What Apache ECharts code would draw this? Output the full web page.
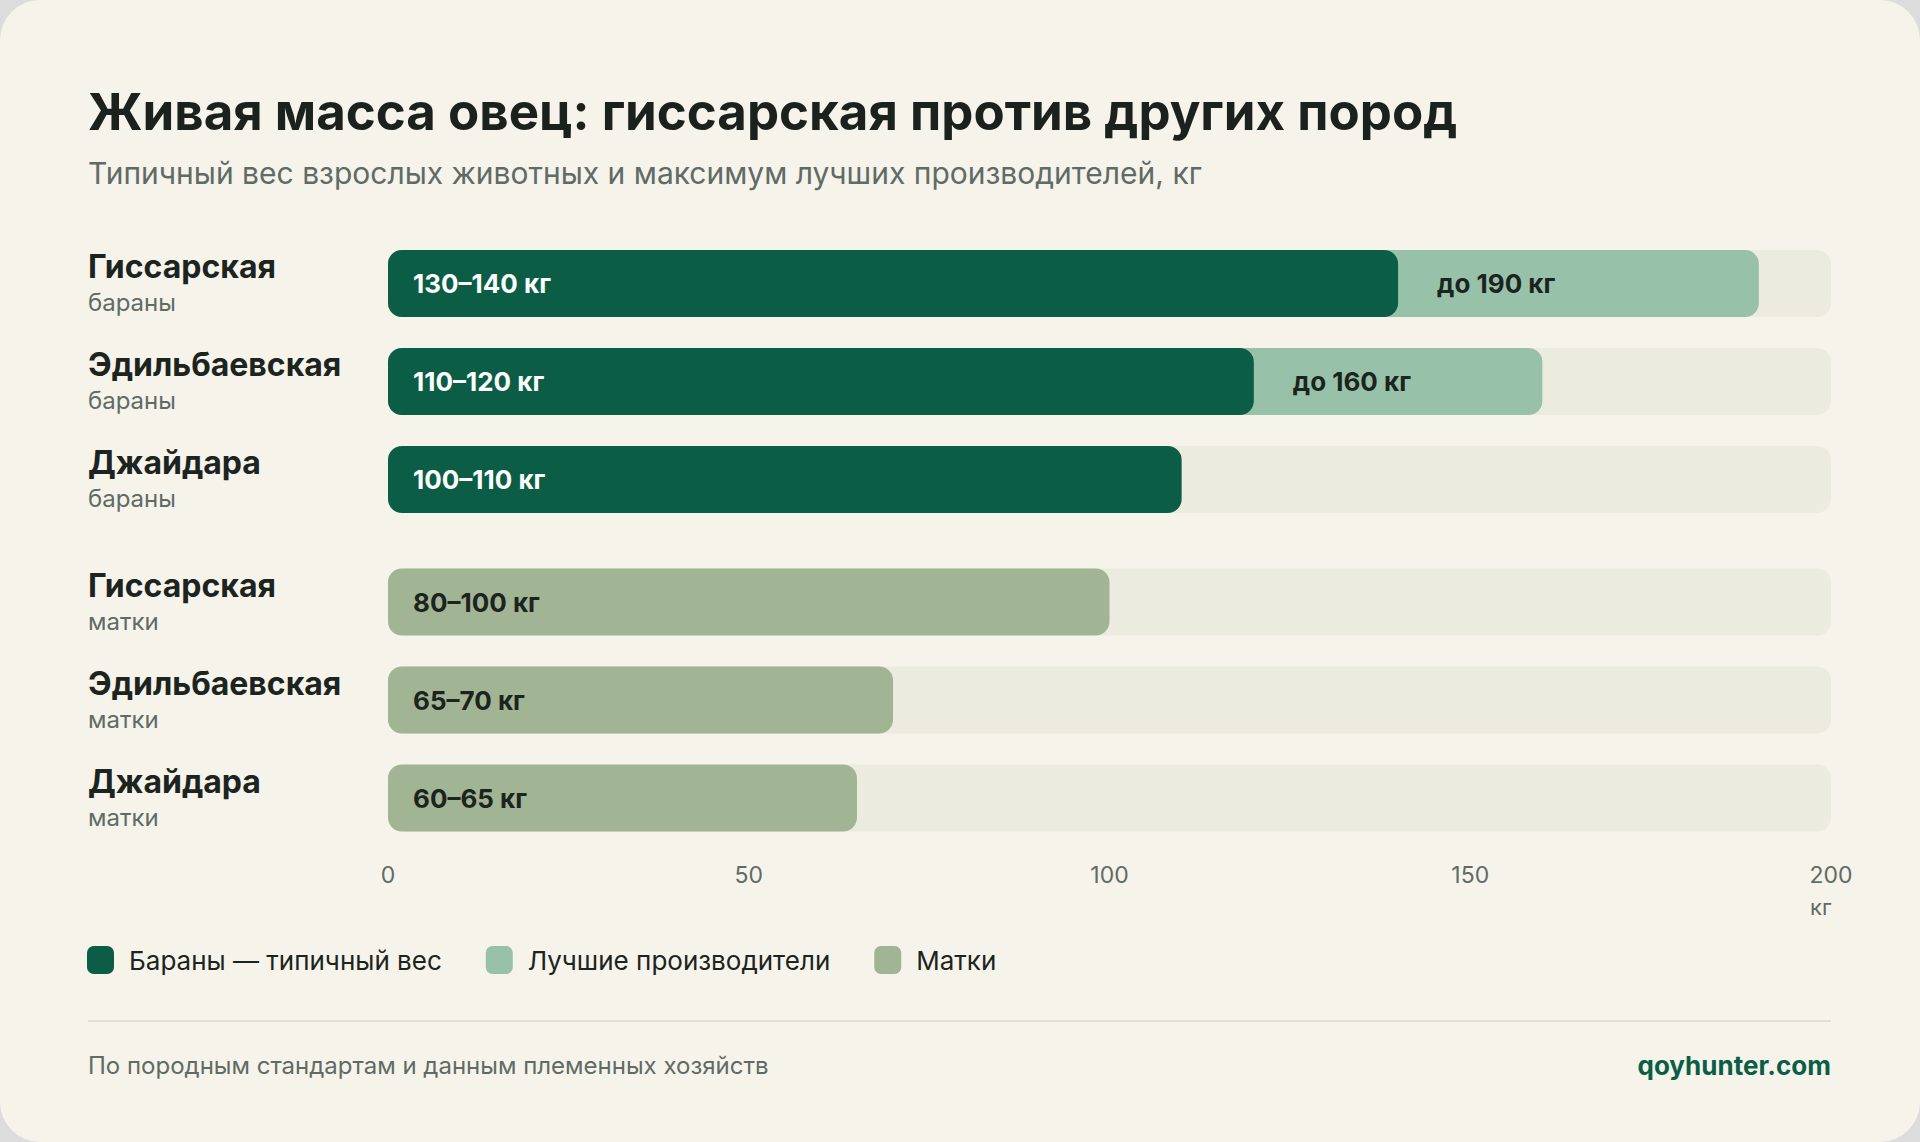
<!DOCTYPE html>
<html lang="ru">
<head>
<meta charset="utf-8">
<title>Живая масса овец</title>
<script src="https://cdn.jsdelivr.net/npm/echarts@6/dist/echarts.min.js"></script>
<style>
  html, body { margin: 0; padding: 0; background: #dcdcdc; }
  #card {
    position: absolute; left: 0; top: 0;
    width: 1920px; height: 1142px;
    border-radius: 40px;
    background: #f6f3eb;
    overflow: hidden;
  }
  #chart { width: 1920px; height: 1142px; }
</style>
</head>
<body>
<div id="card"><div id="chart"></div></div>
<script>
// данные
const breeds = ['Гиссарская', 'Эдильбаевская', 'Джайдара'];
const ramSub = 'бараны';
const eweSub = 'матки';

const ramTypical = [140, 120, 110];
const ramTypicalLabels = ['130–140 кг', '110–120 кг', '100–110 кг'];
const ramBest = [190, 160, null];
const ramBestLabels = ['до 190 кг', 'до 160 кг', ''];

const eweTypical = [100, 70, 65];
const eweLabels = ['80–100 кг', '65–70 кг', '60–65 кг'];

const axisMax = 200;
const axisStep = 50;

// цвета
const DARK = '#0b5e45';
const BEST = '#97c2a9';
const EWE = '#a1b493';
const TRACK = '#ecebdf';
const INK = '#1c2420';
const MUTED = '#5f6b65';
const FONT = 'Inter, "Noto Sans", sans-serif';

const chart = echarts.init(document.getElementById('chart'), null, { renderer: 'svg' });

const barBase = {
  type: 'bar',
  barWidth: 67,
  barGap: '-100%',
  itemStyle: { borderRadius: 14 },
};

const insideLabel = (texts, color) => ({
  show: true,
  position: 'insideLeft',
  distance: 25,
  fontFamily: FONT,
  fontSize: 26,
  fontWeight: 700,
  color: color,
  formatter: (p) => texts[p.dataIndex],
});

const yLabel = (sub) => ({
  align: 'left',
  margin: 300,
  formatter: (v) => `{name|${v}}\n{sub|${sub}}`,
  rich: {
    name: { fontFamily: FONT, fontSize: 32, fontWeight: 700, color: INK, lineHeight: 38 },
    sub: { fontFamily: FONT, fontSize: 24, color: MUTED, lineHeight: 34 },
  },
});

const track = breeds.map(() => axisMax);

const option = {
  animation: false,
  textStyle: { fontFamily: FONT },
  grid: [
    { left: 388, right: 89, top: 234.5, height: 294 },
    { left: 388, right: 89, top: 553, height: 294 },
  ],
  xAxis: [
    { gridIndex: 0, type: 'value', min: 0, max: axisMax, show: false },
    {
      gridIndex: 1, type: 'value', min: 0, max: axisMax, interval: axisStep,
      axisLine: { show: false }, axisTick: { show: false }, splitLine: { show: false },
      axisLabel: { margin: 16, fontFamily: FONT, fontSize: 23, color: MUTED },
      name: 'кг',
      nameLocation: 'end',
      nameGap: -21,
      nameTextStyle: {
        fontFamily: FONT, fontSize: 22, color: MUTED,
        align: 'left', verticalAlign: 'top', padding: [49, 0, 0, 0],
      },
    },
  ],
  yAxis: [
    {
      gridIndex: 0, type: 'category', data: breeds, inverse: true,
      axisLine: { show: false }, axisTick: { show: false },
      axisLabel: yLabel(ramSub),
    },
    {
      gridIndex: 1, type: 'category', data: breeds, inverse: true,
      axisLine: { show: false }, axisTick: { show: false },
      axisLabel: yLabel(eweSub),
    },
  ],
  legend: {
    left: 82,
    top: 941,
    itemWidth: 27,
    itemHeight: 28,
    itemGap: 44,
    icon: 'roundRect',
    selectedMode: false,
    data: ['Бараны — типичный вес', 'Лучшие производители', 'Матки'],
    textStyle: { fontFamily: FONT, fontSize: 26, color: INK, padding: [0, 0, 0, 10] },
  },
  series: [
    // бараны
    { ...barBase, name: 'track-rams', xAxisIndex: 0, yAxisIndex: 0, silent: true,
      data: track, itemStyle: { color: TRACK, borderRadius: 14 } },
    { ...barBase, name: 'Лучшие производители', xAxisIndex: 0, yAxisIndex: 0,
      data: ramBest, itemStyle: { color: BEST, borderRadius: 14 } },
    { ...barBase, name: 'Бараны — типичный вес', xAxisIndex: 0, yAxisIndex: 0,
      data: ramTypical, itemStyle: { color: DARK, borderRadius: 14 },
      label: insideLabel(ramTypicalLabels, '#ffffff') },
    // подпись "до ... кг" начинается с конца типичного веса
    { ...barBase, name: 'lbl-base', xAxisIndex: 0, yAxisIndex: 0, stack: 'lbl', silent: true,
      data: ramTypical, itemStyle: { color: 'rgba(0,0,0,0)' } },
    { ...barBase, name: 'lbl-best', xAxisIndex: 0, yAxisIndex: 0, stack: 'lbl', silent: true,
      data: ramBest.map((v, i) => (v == null ? null : v - ramTypical[i])),
      itemStyle: { color: 'rgba(0,0,0,0)' },
      label: { ...insideLabel(ramBestLabels, INK), distance: 39 } },
    // матки
    { ...barBase, name: 'track-ewes', xAxisIndex: 1, yAxisIndex: 1, silent: true,
      data: track, itemStyle: { color: TRACK, borderRadius: 14 } },
    { ...barBase, name: 'Матки', xAxisIndex: 1, yAxisIndex: 1,
      data: eweTypical, itemStyle: { color: EWE, borderRadius: 14 },
      label: insideLabel(eweLabels, INK) },
  ],
  graphic: [
    { type: 'text', left: 88, top: 111.5 - 25.5, style: {
      text: 'Живая масса овец: гиссарская против других пород',
      fontFamily: FONT, fontSize: 51, fontWeight: 700, fill: '#1b221e' } },
    { type: 'text', left: 88, top: 172.5 - 15, style: {
      text: 'Типичный вес взрослых животных и максимум лучших производителей, кг',
      fontFamily: FONT, fontSize: 30, fill: MUTED } },
    { type: 'rect', shape: { x: 88, y: 1020, width: 1743, height: 2 },
      style: { fill: '#e2dfd3' } },
    { type: 'text', left: 88, top: 1065 - 12, style: {
      text: 'По породным стандартам и данным племенных хозяйств',
      fontFamily: FONT, fontSize: 24, fill: MUTED } },
    { type: 'text', right: 89, top: 1065 - 13, style: {
      text: 'qoyhunter.com',
      fontFamily: FONT, fontSize: 26, fontWeight: 700, fill: DARK } },
  ],
};

chart.setOption(option);
</script>
</body>
</html>
